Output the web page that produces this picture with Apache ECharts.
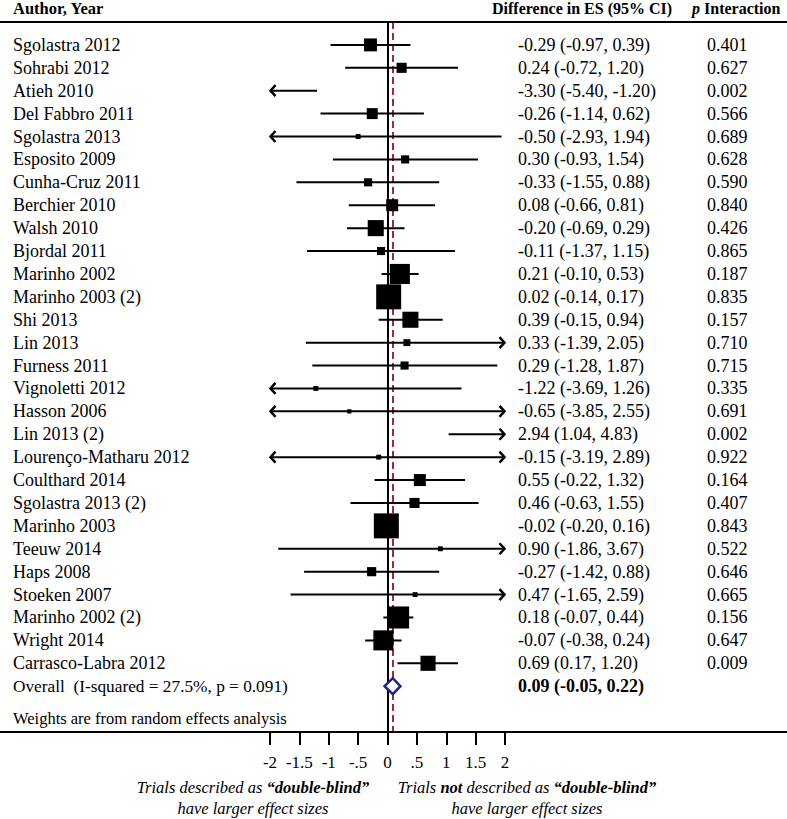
<!DOCTYPE html>
<html>
<head>
<meta charset="utf-8">
<script src="https://cdn.jsdelivr.net/npm/echarts@6/dist/echarts.min.js"></script>
<style>
html,body{margin:0;padding:0;background:#fff;}
#chart{width:787px;height:819px;}
</style>
</head>
<body>
<div id="chart"></div>
<script>
// ---------- DATA ----------
const studies = ["Sgolastra 2012","Sohrabi 2012","Atieh 2010","Del Fabbro 2011","Sgolastra 2013","Esposito 2009","Cunha-Cruz 2011","Berchier 2010","Walsh 2010","Bjordal 2011","Marinho 2002","Marinho 2003 (2)","Shi 2013","Lin 2013","Furness 2011","Vignoletti 2012","Hasson 2006","Lin 2013 (2)","Lourenço-Matharu 2012","Coulthard 2014","Sgolastra 2013 (2)","Marinho 2003","Teeuw 2014","Haps 2008","Stoeken 2007","Marinho 2002 (2)","Wright 2014","Carrasco-Labra 2012"];
const es    = [-0.29,0.24,-3.30,-0.26,-0.50,0.30,-0.33,0.08,-0.20,-0.11,0.21,0.02,0.39,0.33,0.29,-1.22,-0.65,2.94,-0.15,0.55,0.46,-0.02,0.90,-0.27,0.47,0.18,-0.07,0.69];
const ciLow = [-0.97,-0.72,-5.40,-1.14,-2.93,-0.93,-1.55,-0.66,-0.69,-1.37,-0.10,-0.14,-0.15,-1.39,-1.28,-3.69,-3.85,1.04,-3.19,-0.22,-0.63,-0.20,-1.86,-1.42,-1.65,-0.07,-0.38,0.17];
const ciHigh= [0.39,1.20,-1.20,0.62,1.94,1.54,0.88,0.81,0.29,1.15,0.53,0.17,0.94,2.05,1.87,1.26,2.55,4.83,2.89,1.32,1.55,0.16,3.67,0.88,2.59,0.44,0.24,1.20];
const pInteraction = [0.401,0.627,0.002,0.566,0.689,0.628,0.590,0.840,0.426,0.865,0.187,0.835,0.157,0.710,0.715,0.335,0.691,0.002,0.922,0.164,0.407,0.843,0.522,0.646,0.665,0.156,0.647,0.009];
// estimated relative study weights (random effects)
const weights = [2.8,1.7,0.3,2.0,0.4,1.1,1.1,2.4,4.3,1.1,6.7,10.4,4.3,0.8,1.1,0.4,0.3,0.3,0.4,2.4,1.7,10.4,0.4,1.4,0.4,8.1,6.7,3.8];
const overallLabel = "Overall  (I-squared = 27.5%, p = 0.091)";
const overall = {es:0.09, lo:-0.05, hi:0.22};
const tickValues = [-2,-1.5,-1,-0.5,0,0.5,1,1.5,2];
const tickLabels = ["-2","-1.5","-1","-.5","0",".5","1","1.5","2"];

// ---------- CHART ----------
const FONT = "'Liberation Serif','Times New Roman',serif";
const X_MIN = -2, X_MAX = 2;
const Y_MIN = -1, Y_MAX = 30;
const nRows = studies.length;
const overallRow = nRows;

const fmt = (v,d)=>v.toFixed(d);
const esText = studies.map((s,i)=>fmt(es[i],2)+" ("+fmt(ciLow[i],2)+", "+fmt(ciHigh[i],2)+")");
const overallText = fmt(overall.es,2)+" ("+fmt(overall.lo,2)+", "+fmt(overall.hi,2)+")";

const chart = echarts.init(document.getElementById('chart'), null, {renderer:'svg'});

const yBase = {
  type:'value', min:Y_MIN, max:Y_MAX, interval:1, inverse:true,
  axisLine:{show:false, onZero:false}, axisTick:{show:false}, splitLine:{show:false}
};

const ciData = studies.map((s,i)=>[i, ciLow[i], ciHigh[i]]);
const ptData = studies.map((s,i)=>({value:[es[i], i], symbolSize: 7.75*Math.sqrt(weights[i])}));
const tickLabelData = tickValues.map((v,i)=>[v, Y_MAX, i]);

function renderCI(params, api){
  const row = api.value(0), lo = api.value(1), hi = api.value(2);
  const a = Math.max(lo, X_MIN), b = Math.min(hi, X_MAX);
  if (b < X_MIN || a > X_MAX) return;
  const p1 = api.coord([a, row]), p2 = api.coord([b, row]);
  const st = {stroke:'#000', lineWidth:2, fill:null};
  const children = [{type:'line', shape:{x1:p1[0],y1:p1[1],x2:p2[0],y2:p2[1]}, style:st}];
  if (lo < X_MIN) children.push({type:'polyline', shape:{points:[[p1[0]+5.5,p1[1]-5.5],[p1[0]+0.5,p1[1]],[p1[0]+5.5,p1[1]+5.5]]}, style:{stroke:'#000',lineWidth:2.5,fill:null}});
  if (hi > X_MAX) children.push({type:'polyline', shape:{points:[[p2[0]-5.5,p2[1]-5.5],[p2[0]-0.5,p2[1]],[p2[0]-5.5,p2[1]+5.5]]}, style:{stroke:'#000',lineWidth:2.5,fill:null}});
  return {type:'group', children};
}

function renderDiamond(params, api){
  const row = api.value(0);
  const c = api.coord([api.value(1), row]);
  const l = api.coord([api.value(2), row]);
  const r = api.coord([api.value(3), row]);
  return {type:'polygon', shape:{points:[[l[0],c[1]],[c[0],c[1]-8],[r[0],c[1]],[c[0],c[1]+8]]},
    style:{fill:'#fff', stroke:'#1c2389', lineWidth:2.5}};
}

function renderTickLabel(params, api){
  const p = api.coord([api.value(0), api.value(1)]);
  return {type:'text', x:p[0], y:p[1]+30,
    style:{text:tickLabels[api.value(2)], font:"17px "+FONT, fill:'#000', align:'center', verticalAlign:'middle'}};
}

const option = {
  backgroundColor:'#fff',
  animation:false,
  grid:{left:270, width:235, top:22, height:710, outerBoundsMode:'none', containLabel:false},
  xAxis:{
    type:'value', min:X_MIN, max:X_MAX, interval:0.5, position:'bottom',
    axisLine:{show:false, onZero:false},
    axisTick:{show:true, inside:false, length:13, lineStyle:{color:'#000', width:2}},
    splitLine:{show:false},
    axisLabel:{show:false}
  },
  yAxis:[
    Object.assign({}, yBase, {position:'left',
      axisLabel:{align:'left', margin:257, color:'#000', fontFamily:FONT, fontSize:18,
        formatter:v=>v>=0&&v<nRows?studies[v]:(v===overallRow?'{o|'+overallLabel+'}':''),
        rich:{o:{fontFamily:FONT, fontSize:17.3, color:'#000'}}}}),
    Object.assign({}, yBase, {position:'right', offset:0,
      axisLabel:{align:'left', margin:13, color:'#000', fontFamily:FONT, fontSize:18,
        formatter:v=>v>=0&&v<nRows?esText[v]:(v===overallRow?'{b|'+overallText+'}':''),
        rich:{b:{fontWeight:'bold', fontFamily:FONT, fontSize:18, color:'#000'}}}}),
    Object.assign({}, yBase, {position:'right', offset:189,
      axisLabel:{align:'left', margin:13, color:'#000', fontFamily:FONT, fontSize:18,
        formatter:v=>v>=0&&v<nRows?fmt(pInteraction[v],3):''}})
  ],
  series:[
    {type:'custom', name:'ci', renderItem:renderCI, data:ciData, encode:{x:[1,2], y:0}, z:2, clip:false,
      markLine:{silent:true, symbol:'none', label:{show:false}, z:1,
        data:[
          {xAxis:0, lineStyle:{color:'#000', width:2, type:'solid', opacity:1}},
          {xAxis:overall.es, lineStyle:{color:'#9c2b3c', width:2, type:[7,4], opacity:1}}
        ]}},
    {type:'scatter', name:'es', symbol:'rect', data:ptData, itemStyle:{color:'#000', opacity:1}, z:3, clip:true},
    {type:'custom', name:'overall', renderItem:renderDiamond, data:[[overallRow, overall.es, overall.lo, overall.hi]], encode:{x:[1,2,3], y:0}, z:4},
    {type:'custom', name:'ticklabels', renderItem:renderTickLabel, data:tickLabelData, encode:{x:0, y:1}, z:5, clip:false, silent:true}
  ],
  graphic:[
    {type:'line', shape:{x1:0,y1:22,x2:787,y2:22}, style:{stroke:'#000', lineWidth:2}, z:10},
    {type:'line', shape:{x1:0,y1:732,x2:787,y2:732}, style:{stroke:'#000', lineWidth:2}, z:10},
    {type:'text', left:13, top:0, style:{text:'Author, Year', font:"bold 16.5px "+FONT, fill:'#000'}},
    {type:'text', left:492, top:0, style:{text:'Difference in ES (95% CI)', font:"bold 16px "+FONT, fill:'#000'}},
    {type:'text', left:692, top:0, style:{text:'{i|p} Interaction', font:"bold 16px "+FONT, fill:'#000',
      rich:{i:{fontStyle:'italic', fontWeight:'bold', fontSize:16, fontFamily:FONT}}}},
    {type:'text', left:13, top:710, style:{text:'Weights are from random effects analysis', font:"16.5px "+FONT, fill:'#000'}},
    {type:'text', x:253, y:787, style:{text:'Trials described as {b|“double-blind”}', font:"italic 16.5px "+FONT, fill:'#000', align:'center', verticalAlign:'middle',
      rich:{b:{fontStyle:'italic', fontWeight:'bold', fontSize:16.5, fontFamily:FONT}}}},
    {type:'text', x:253, y:808, style:{text:'have larger effect sizes', font:"italic 16.5px "+FONT, fill:'#000', align:'center', verticalAlign:'middle'}},
    {type:'text', x:527, y:787, style:{text:'Trials {b|not} described as {b|“double-blind”}', font:"italic 16.5px "+FONT, fill:'#000', align:'center', verticalAlign:'middle',
      rich:{b:{fontStyle:'italic', fontWeight:'bold', fontSize:16.5, fontFamily:FONT}}}},
    {type:'text', x:527, y:808, style:{text:'have larger effect sizes', font:"italic 16.5px "+FONT, fill:'#000', align:'center', verticalAlign:'middle'}}
  ]
};
chart.setOption(option);
</script>
</body>
</html>
